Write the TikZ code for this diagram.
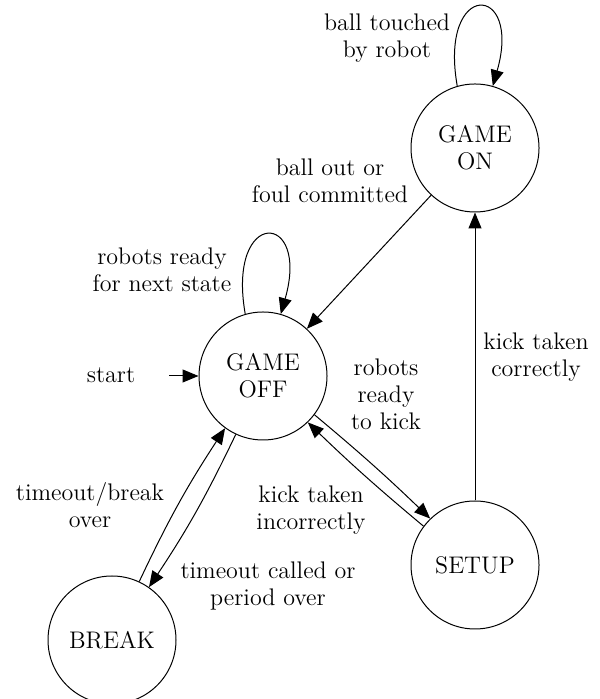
\documentclass[tikz,border=0pt]{standalone}
\usepackage{tikz}
\usetikzlibrary{arrows.meta}

\tikzset{
  state/.style={draw, circle, minimum size=64pt, inner sep=0pt, align=center},
  lbl/.style={align=center, inner sep=1pt},
  trans/.style={-{Triangle[length=8pt,width=6.5pt]}},
}

\begin{document}
\begin{tikzpicture}[x=0.5pt, y=0.5pt, line width=0.5pt, font=\fontsize{12}{13.5}\selectfont]
  \useasboundingbox (0,0) rectangle (599,699);

  % States
  \node[state] (on) at (475,551) {GAME\\ON};
  \node[state] (off) at (263,323) {GAME\\OFF};
  \node[state] (setup) at (475,134) {SETUP};
  \node[state] (brk) at (112,59) {BREAK};

  % Start
  \node (start) at (111,324) {start};
  \coordinate (init) at (169,323);

  % Labels
  \node[lbl] (touched) at (387,661) {ball touched\\by robot};
  \node[lbl] (ballout) at (330,518) {ball out or\\foul committed};
  \node[lbl] (ready) at (162,429) {robots ready\\for next state};
  \node[lbl] (tokick) at (386,305) {robots\\ready\\to kick};
  \node[lbl] (correct) at (536,342) {kick taken\\correctly};
  \node[lbl] (incorrect) at (311,189) {kick taken\\incorrectly};
  \node[lbl] (tbreak) at (90,194) {timeout/break\\over};
  \node[lbl] (called) at (268,113) {timeout called or\\period over};

  % Transitions
  \draw[trans] (on.106) to[out=100, in=74, looseness=7.8] (on.74);
  \draw[trans] (off.106) to[out=100, in=74, looseness=7.8] (off.74);
  \draw[trans] (init) -- (off);
  \draw[trans] (on) -- (off);
  \draw[trans] (setup) -- (on);
  \draw[trans] (off.-37) to[bend left=2] (setup.134);
  \draw[trans] (setup.143) to[bend left=2] (off.-46);
  \draw[trans] (brk.65) to[bend left=4] (off.234);
  \draw[trans] (off.245) to[bend left=4] (brk.55);
\end{tikzpicture}
\end{document}
